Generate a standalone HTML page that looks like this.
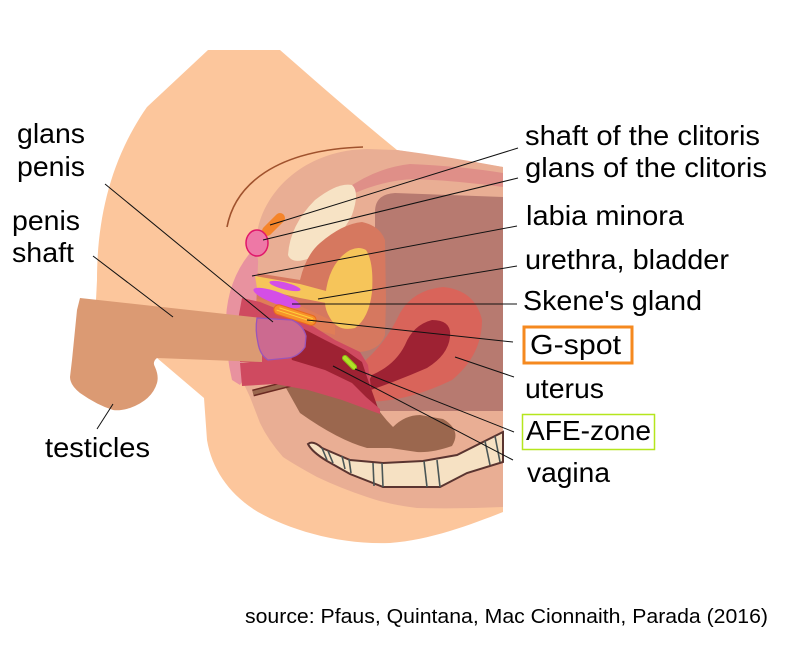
<!DOCTYPE html>
<html><head><meta charset="utf-8"><style>
html,body{margin:0;padding:0;background:#fff;}
svg{display:block;}
text{font-family:"Liberation Sans",Arial,sans-serif;fill:#000;}
</style></head><body>
<svg width="794" height="651" viewBox="0 0 794 651" xmlns="http://www.w3.org/2000/svg">
<!-- peach body -->
<path d="M208,50 L280,50 C320,85 360,120 397,150 L503,167 L503,512 C470,525 430,540 390,543 C340,545 290,530 258,512 C230,495 212,470 207,440 L204,398 L157,358 L96,300 L97,280 C97,220 110,160 147,107 Z" fill="#fcc69c"/>
<!-- salmon inner -->
<path d="M258,228 C268,185 310,150 367,149 L397,150 Q450,157 503,167 L503,507 Q460,509 417,508 Q390,505 367,497 Q340,488 317,477 Q295,465 283,457 Q268,440 260,423 L250,397 L242,380 L240,300 Z" fill="#e9ae94"/>
<!-- rose band -->
<path d="M345,190 Q375,168 410,164 Q460,166 503,173 L503,187 Q460,181 415,179 Q385,180 355,193 Z" fill="#df8f88"/>
<!-- cream -->
<path d="M288,255 Q290,225 315,200 Q338,182 352,185 Q360,192 352,215 Q340,240 310,258 Q292,265 288,255 Z" fill="#f7e3c5"/>
<!-- mauve -->
<path d="M375,212 Q375,194 395,193 L503,197 L503,411 L378,411 L340,385 L320,340 L375,290 Z" fill="#b77a70"/>
<!-- orange ring around bladder -->
<path d="M250,272 L300,280 Q306,255 320,243 Q342,224 362,222 Q380,226 385,240 L386,300 L385,335 Q380,350 360,352 L330,345 L300,322 L252,306 Z" fill="#d6785f"/>
<path d="M252,298 L300,306 L335,322 L335,335 L300,325 L252,312 Z" fill="#e07d57"/>
<!-- yellow bladder -->
<path d="M325,302 Q326,272 342,256 Q355,244 366,250 Q374,262 372,292 Q369,318 355,328 Q338,332 330,318 Q325,310 325,302 Z" fill="#f6c55a"/>
<!-- uterus -->
<path d="M360,365 Q385,345 400,313 Q413,290 443,287 Q475,290 482,320 Q482,355 452,380 Q415,398 382,401 Q366,403 360,392 Z" fill="#d9645a"/>
<path d="M450,337 Q452,320 432,320 Q413,325 405,345 Q395,365 372,375 L362,393 Q395,382 427,368 Q448,355 450,337 Z" fill="#9e2233"/>
<!-- brown rectum -->
<path d="M286,388 Q300,380 318,388 L345,398 L380,412 Q386,420 393,427 Q405,415 420,415 L443,419 Q462,430 452,446 Q432,453 417,452 L390,448 L367,448 Q338,440 300,413 Z" fill="#9b674e"/>
<line x1="253" y1="393" x2="300" y2="381" stroke="#6b2a22" stroke-width="7"/>
<line x1="253" y1="393" x2="300" y2="381" stroke="#9b674e" stroke-width="4"/>
<!-- sacrum -->
<path d="M308,444 Q313,440 322,448 L350,460 L383,463 L423,461 L457,455 L483,442 L503,432 L503,462 L467,473 L440,487 L383,487 L350,474 L327,461 Q312,452 308,444 Z" fill="#f6e1c3" stroke="#5a3430" stroke-width="2"/>
<g stroke="#4a5656" stroke-width="1.6">
<line x1="322" y1="448" x2="327" y2="460"/><line x1="328" y1="451" x2="333" y2="463"/>
<line x1="342" y1="456" x2="345" y2="469"/><line x1="349" y1="459" x2="351" y2="473"/>
<line x1="373" y1="463" x2="374" y2="486"/><line x1="382" y1="463" x2="383" y2="487"/>
<line x1="424" y1="461" x2="427" y2="487"/><line x1="437" y1="460" x2="440" y2="487"/>
<line x1="485" y1="441" x2="490" y2="465"/><line x1="495" y1="436" x2="500" y2="462"/>
</g>
<!-- labia pink -->
<path d="M250,253 Q259,252 258,264 L256,310 L250,332 L242,362 Q246,378 240,385 L232,380 Q225,350 226,318 Q228,280 250,253 Z" fill="#e8929f"/>
<!-- crimson upper -->
<path d="M242,298 L260,302 L300,318 L335,340 L360,352 L368,365 L372,395 L330,378 L290,362 L258,362 L240,362 L238,320 Z" fill="#cf4a60"/>
<!-- dark red lumen -->
<path d="M302,328 L325,340 L345,350 L362,362 L368,380 L378,408 L360,405 L340,386 L320,371 L292,361 L290,345 Z" fill="#9e2233"/>
<!-- crimson lower -->
<path d="M240,363 L270,360 L292,360 L325,370 L352,383 L366,397 L380,409 L380,414 L342,400 L308,390 L275,384 L242,386 Z" fill="#cf4a60"/>
<!-- urethra strip -->
<path d="M255,276 L300,284 L326,291 L326,303 L300,298 L257,288 Z" fill="#f6c55a"/>
<!-- purple Skene's -->
<ellipse cx="285" cy="286" rx="16" ry="3.5" transform="rotate(14 285 286)" fill="#d44ee6"/>
<ellipse cx="277" cy="298" rx="25" ry="6" transform="rotate(20 277 298)" fill="#d44ee6"/>
<!-- G-spot -->
<g transform="rotate(18 295 315)">
<rect x="273" y="310" width="44" height="10" rx="5" fill="#f7922b" stroke="#ea6a1c" stroke-width="1"/>
<line x1="278" y1="313" x2="313" y2="313" stroke="#ffd23a" stroke-width="1"/>
<line x1="276" y1="316" x2="314" y2="316" stroke="#ffd23a" stroke-width="1"/>
</g>
<!-- AFE -->
<line x1="345" y1="358" x2="354" y2="367" stroke="#8cbf12" stroke-width="6" stroke-linecap="round"/>
<line x1="345" y1="358" x2="354" y2="367" stroke="#b0e227" stroke-width="4" stroke-linecap="round"/>
<!-- clitoris -->
<line x1="267" y1="231" x2="280" y2="218" stroke="#f5842a" stroke-width="10" stroke-linecap="round"/>
<ellipse cx="257" cy="243" rx="11" ry="13" fill="#ee78a6" stroke="#e0166a" stroke-width="1.5"/>
<!-- penis -->
<path d="M80,298 L262,318 L262,362 L157,358 Q152,362 155,367 Q159,376 157,383 Q152,400 130,408 Q120,411 113,410 Q97,405 80,393 Q70,385 70,377 L72,360 L77,310 Z" fill="#db9a73"/>
<path d="M257,318 L292,320 Q303,325 306,336 L305,347 Q298,357 288,358 L268,360 Q260,355 258,343 Q255,330 257,318 Z" fill="#cc6a90" stroke="#9a55b8" stroke-width="1.3"/>
<!-- brown arc -->
<path d="M227,227 C235,185 275,150 363,147" fill="none" stroke="#a0522d" stroke-width="1.6"/>
<!-- leader lines -->
<g stroke="#111" stroke-width="1" fill="none">
<line x1="518" y1="148" x2="270" y2="225"/>
<line x1="518" y1="178" x2="263" y2="240"/>
<line x1="517" y1="226" x2="252" y2="276"/>
<line x1="517" y1="266" x2="318" y2="299"/>
<line x1="517" y1="304" x2="292" y2="304"/>
<line x1="513" y1="342" x2="307" y2="320"/>
<line x1="514" y1="377" x2="455" y2="357"/>
<line x1="514" y1="432" x2="355" y2="369"/>
<line x1="513" y1="460" x2="333" y2="366"/>
<line x1="105" y1="184" x2="273" y2="322"/>
<line x1="93" y1="256" x2="173" y2="317"/>
<line x1="97" y1="429" x2="113" y2="404"/>
</g>
<!-- boxes -->
<rect x="524" y="327" width="108" height="36" fill="#fff" stroke="#f5891f" stroke-width="3"/>
<rect x="522.5" y="414.5" width="132" height="35" fill="#fff" stroke="#b5e61d" stroke-width="1.5"/>
<!-- labels -->
<g font-size="28">
<text x="17" y="143" textLength="68" lengthAdjust="spacingAndGlyphs">glans</text>
<text x="17" y="176" textLength="68" lengthAdjust="spacingAndGlyphs">penis</text>
<text x="12" y="230" textLength="68" lengthAdjust="spacingAndGlyphs">penis</text>
<text x="12" y="262" textLength="62" lengthAdjust="spacingAndGlyphs">shaft</text>
<text x="45" y="457" textLength="105" lengthAdjust="spacingAndGlyphs">testicles</text>
<text x="525" y="145" textLength="235" lengthAdjust="spacingAndGlyphs">shaft of the clitoris</text>
<text x="525" y="177" textLength="242" lengthAdjust="spacingAndGlyphs">glans of the clitoris</text>
<text x="526" y="225" textLength="158" lengthAdjust="spacingAndGlyphs">labia minora</text>
<text x="525" y="269" textLength="204" lengthAdjust="spacingAndGlyphs">urethra, bladder</text>
<text x="523" y="310" textLength="179" lengthAdjust="spacingAndGlyphs">Skene's gland</text>
<text x="530" y="354" textLength="91" lengthAdjust="spacingAndGlyphs">G-spot</text>
<text x="525" y="398" textLength="79" lengthAdjust="spacingAndGlyphs">uterus</text>
<text x="526" y="440" textLength="125" lengthAdjust="spacingAndGlyphs">AFE-zone</text>
<text x="527" y="482" textLength="83" lengthAdjust="spacingAndGlyphs">vagina</text>
</g>
<text x="245" y="623" font-size="20" textLength="523" lengthAdjust="spacingAndGlyphs">source: Pfaus, Quintana, Mac Cionnaith, Parada (2016)</text>
</svg>
</body></html>
